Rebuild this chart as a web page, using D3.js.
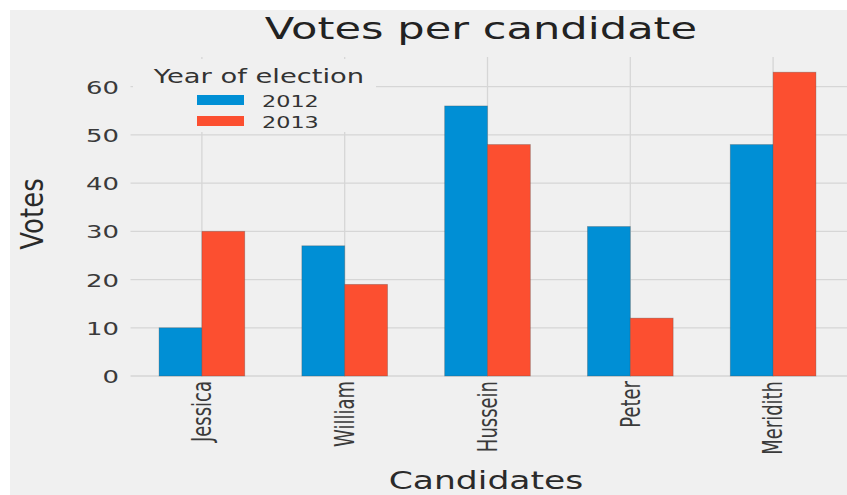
<!DOCTYPE html>
<html>
<head>
<meta charset="utf-8">
<script src="https://cdn.jsdelivr.net/npm/d3@7"></script>
<style>
  html, body { margin: 0; padding: 0; background: #ffffff; }
  svg { display: block; }
  text { font-family: "DejaVu Sans", sans-serif; }
</style>
</head>
<body>
<svg id="chart" width="847" height="495"></svg>
<script>
// ---- data ----
const candidates = ["Jessica", "William", "Hussein", "Peter", "Meridith"];
const years = ["2012", "2013"];
const votes2012 = [10, 27, 56, 31, 48];
const votes2013 = [30, 19, 48, 12, 63];
const yTicks = [0, 10, 20, 30, 40, 50, 60];
const colors = ["#008fd5", "#fc4f30"];

const title = "Votes per candidate";
const xLabel = "Candidates";
const yLabel = "Votes";
const legendTitle = "Year of election";

// ---- layout ----
const W = 847, H = 495;
const SX = 1.44; // horizontal stretch of text
const plot = { left: 130.5, right: 844.5, top: 57, bottom: 376 };

const svg = d3.select("#chart");

svg.append("rect").attr("x", 10).attr("y", 10)
  .attr("width", W - 10).attr("height", H - 10)
  .attr("fill", "#f0f0f0");

const x = d3.scaleBand().domain(candidates).range([plot.left, plot.right]).padding(0);
const xInner = d3.scaleBand().domain(years).range([0, x.bandwidth() * 0.6]).padding(0);
const y = d3.scaleLinear().domain([0, 66.15]).range([plot.bottom, plot.top]);

const rows = candidates.map((c, i) => ({ name: c, values: [votes2012[i], votes2013[i]] }));

// gridlines
const grid = svg.append("g");
grid.selectAll("line.h").data(yTicks).join("line")
  .attr("x1", plot.left).attr("x2", W)
  .attr("y1", d => y(d)).attr("y2", d => y(d))
  .attr("stroke", "#d6d6d6").attr("stroke-width", 1.3);
grid.selectAll("line.v").data(candidates).join("line")
  .attr("x1", d => x(d) + x.bandwidth() / 2).attr("x2", d => x(d) + x.bandwidth() / 2)
  .attr("y1", plot.top).attr("y2", plot.bottom)
  .attr("stroke", "#d6d6d6").attr("stroke-width", 1.3);

// bars
const groups = svg.append("g").selectAll("g").data(rows).join("g")
  .attr("transform", d => `translate(${x(d.name) + x.bandwidth() * 0.2},0)`);
groups.selectAll("rect").data(d => d.values.map((v, k) => ({ year: years[k], v, k })))
  .join("rect")
  .attr("x", d => xInner(d.year))
  .attr("width", xInner.bandwidth())
  .attr("y", d => y(d.v))
  .attr("height", d => y(0) - y(d.v))
  .attr("fill", d => colors[d.k])
  .attr("stroke", "rgba(70,70,70,0.35)")
  .attr("stroke-width", 0.8);

// y axis
const yAxis = svg.append("g")
  .attr("transform", `translate(${plot.left},0)`)
  .call(d3.axisLeft(y).tickValues(yTicks).tickSize(0).tickFormat(d3.format("d")));
yAxis.select(".domain").remove();
yAxis.selectAll("text")
  .attr("x", 0).attr("dy", "0.36em")
  .attr("transform", `translate(-11.5,0) scale(${SX},1)`)
  .attr("text-anchor", "end")
  .attr("font-size", 18).attr("font-family", "DejaVu Sans")
  .attr("fill", "#3a3a3a");

// x axis
const xAxis = svg.append("g")
  .attr("transform", `translate(0,${plot.bottom})`)
  .call(d3.axisBottom(x).tickSize(0));
xAxis.select(".domain").remove();
xAxis.selectAll("text")
  .attr("x", 0).attr("y", 0).attr("dy", "0.36em")
  .attr("transform", `translate(0,5) scale(${SX},1) rotate(-90)`)
  .attr("text-anchor", "end")
  .attr("font-size", 18).attr("font-family", "DejaVu Sans")
  .attr("fill", "#3a3a3a");

// title
svg.append("text")
  .attr("transform", `translate(481,39) scale(${SX},1)`)
  .attr("text-anchor", "middle").attr("font-size", 30)
  .attr("fill", "#222").text(title);

// axis labels
svg.append("text")
  .attr("transform", `translate(486,489) scale(${SX},1)`)
  .attr("text-anchor", "middle").attr("font-size", 24)
  .attr("fill", "#2a2a2a").text(xLabel);

svg.append("text")
  .attr("transform", `translate(31.5,214) scale(${SX * 0.85},1) rotate(-90)`)
  .attr("text-anchor", "middle").attr("dy", "0.36em").attr("font-size", 26)
  .attr("fill", "#2a2a2a").text(yLabel);

// legend
const lg = svg.append("g");
lg.append("rect").attr("x", 133).attr("y", 59).attr("width", 243).attr("height", 73)
  .attr("rx", 4).attr("fill", "#f0f0f0");
lg.append("text")
  .attr("transform", `translate(259,83) scale(${SX},1)`)
  .attr("text-anchor", "middle").attr("font-size", 19)
  .attr("fill", "#333").text(legendTitle);
const items = lg.selectAll("g.item").data(years).join("g")
  .attr("transform", (d, i) => `translate(197,${95 + i * 21})`);
items.append("rect").attr("width", 47).attr("height", 10)
  .attr("fill", (d, i) => colors[i]);
items.append("text")
  .attr("transform", `translate(65,11.5) scale(${SX},1)`)
  .attr("font-size", 15.5).attr("fill", "#333").text(d => d);
</script>
</body>
</html>
